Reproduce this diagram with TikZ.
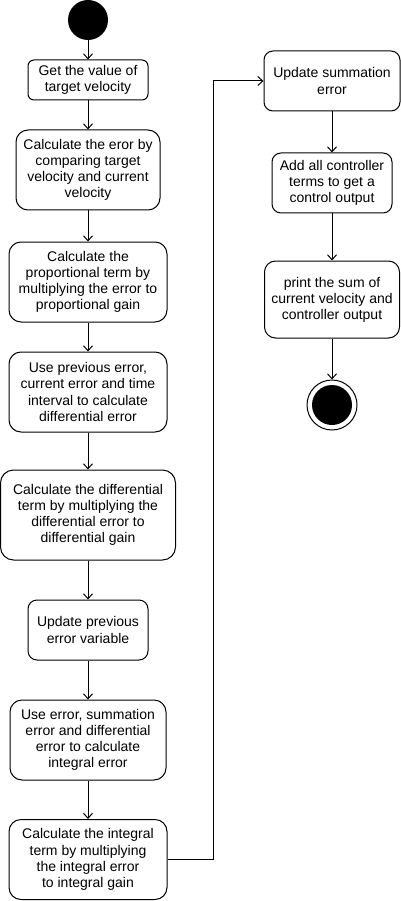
\documentclass[tikz,border=0pt]{standalone}
\usepackage{fontspec}
\setmainfont{Liberation Sans}
\usetikzlibrary{arrows.meta}
\begin{document}
\begin{tikzpicture}[x=1pt,y=-1pt,
  act/.style={draw, line width=1pt, align=center, inner sep=0pt,
    font=\fontsize{14}{16.1}\selectfont},
  arr/.style={line width=1pt, -{Straight Barb[length=5pt,width=9pt,line width=1pt]}}]
\useasboundingbox (0,0) rectangle (401,901);
\node[circle, fill=black, minimum size=40pt, inner sep=0pt] (start) at (88,20) {};
\node[act, minimum width=120pt, minimum height=40pt, rounded corners=6pt] (b1) at (88,80) {Get the value of\\target velocity};
\node[act, minimum width=144pt, minimum height=80pt, rounded corners=12pt] (b2) at (88,170) {Calculate the eror by\\comparing target\\velocity and current\\velocity};
\node[act, minimum width=158pt, minimum height=80pt, rounded corners=12pt] (b3) at (88,282) {Calculate the\\proportional term by\\multiplying the error to\\proportional gain};
\node[act, minimum width=158pt, minimum height=80pt, rounded corners=12pt] (b4) at (88,392) {Use previous error,\\current error and time\\interval to calculate\\differential error};
\node[act, minimum width=175pt, minimum height=90pt, rounded corners=13pt] (b5) at (88,515) {Calculate the differential\\term by multiplying the\\differential error to\\differential gain};
\node[act, minimum width=120pt, minimum height=60pt, rounded corners=9pt] (b6) at (88,630) {Update previous\\error variable};
\node[act, minimum width=156pt, minimum height=80pt, rounded corners=12pt] (b7) at (88,740) {Use error, summation\\error and differential\\error to calculate\\integral error};
\node[act, minimum width=158pt, minimum height=80pt, rounded corners=12pt] (b8) at (88,859.5) {Calculate the integral\\term by multiplying\\the integral error\\to integral gain};
\node[act, minimum width=136pt, minimum height=60pt, rounded corners=9pt] (b9) at (332,81) {Update summation\\error};
\node[act, minimum width=120pt, minimum height=60pt, rounded corners=9pt] (b10) at (332,183) {Add all controller\\terms to get a\\control output};
\node[act, minimum width=135pt, minimum height=77pt, rounded corners=11pt] (b11) at (332,299.5) {print the sum of\\current velocity and\\controller output};
\node[circle, draw, line width=1pt, fill=white, minimum size=50pt, inner sep=0pt] (end) at (332,405) {};
\node[circle, fill=black, minimum size=40pt, inner sep=0pt] (endin) at (332,405) {};
\coordinate (k1) at (213,859.5);
\draw[arr] (start) -- (b1);
\draw[arr] (b1) -- (b2);
\draw[arr] (b2) -- (b3);
\draw[arr] (b3) -- (b4);
\draw[arr] (b4) -- (b5);
\draw[arr] (b5) -- (b6);
\draw[arr] (b6) -- (b7);
\draw[arr] (b7) -- (b8);
\draw[arr] (b8.east) -- (k1) |- (b9.west);
\draw[arr] (b9) -- (b10);
\draw[arr] (b10) -- (b11);
\draw[arr] (b11) -- (end);
\end{tikzpicture}
\end{document}
